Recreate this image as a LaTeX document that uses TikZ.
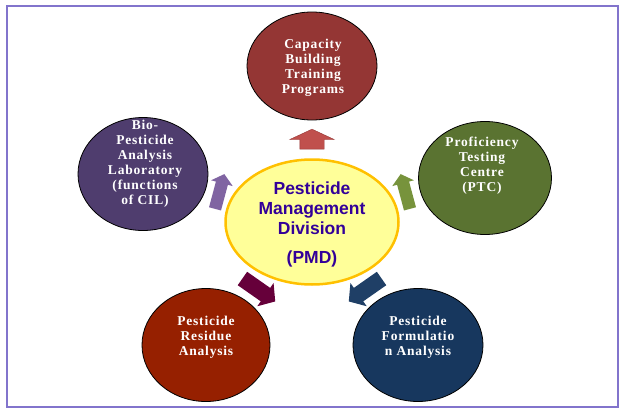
\documentclass[tikz,border=0pt]{standalone}
\usepackage{fontspec}
\setmainfont{Liberation Serif}
\newfontfamily\hubfont{Liberation Sans}
\newfontfamily\unitfont[LetterSpace=6]{Liberation Serif}
\usetikzlibrary{shapes.geometric,shapes.arrows}
\definecolor{capred}{HTML}{943634}
\definecolor{biopurple}{HTML}{4F3D6E}
\definecolor{ptcgreen}{HTML}{5A7331}
\definecolor{resrust}{HTML}{962000}
\definecolor{formnavy}{HTML}{17375E}
\definecolor{hubfill}{HTML}{FFFF99}
\definecolor{hubgold}{HTML}{FFC000}
\definecolor{hubtext}{HTML}{330099}
\definecolor{framecol}{HTML}{8274CC}
\definecolor{capptr}{HTML}{C0504D}
\definecolor{bioptr}{HTML}{8064A2}
\definecolor{ptcptr}{HTML}{77933C}
\definecolor{resptr}{HTML}{66003A}
\definecolor{formptr}{HTML}{1F3F66}
\begin{document}
\begin{tikzpicture}[x=1pt,y=-1pt,inner sep=0pt,outer sep=0pt,
unit/.style={draw=black,ellipse,line width=0.8pt,minimum width=130pt,minimum height=113pt},
unittext/.style={align=center,text=white,font=\unitfont\bfseries\fontsize{13.5}{15}\selectfont},
hub/.style={draw=hubgold,fill=hubfill,ellipse,line width=2.5pt,minimum width=173pt,minimum height=125pt},
pointer/.style={single arrow,single arrow head indent=0pt,inner xsep=0pt,inner ysep=6pt,minimum height=36pt,single arrow head extend=5pt,single arrow tip angle=100}]
\useasboundingbox (0,0) rectangle (626,415);
\draw[framecol,line width=2pt] (7,6) rectangle (618,407);
% centre
\node[hub] (pmd) at (312,222) {};
\node[align=center,text=hubtext,font=\hubfont\bfseries\fontsize{17.5}{20}\selectfont] (pmdtext) at (312,224)
  {Pesticide\\Management\\Division\\[9pt](PMD)};
% outer units
\node[unit,fill=capred,minimum height=108pt] (cap) at (312,66) {};
\node[unittext] (captext) at (313,68) {Capacity\\Building\\Training\\Programs};
\node[unit,fill=biopurple] (bio) at (143,174) {};
\node[unittext] (biotext) at (145,164) {Bio-\\Pesticide\\Analysis\\Laboratory\\(functions\\of CIL)};
\node[unit,fill=ptcgreen,minimum width=133pt] (ptc) at (485,178) {};
\node[unittext] (ptctext) at (482,166) {Proficiency\\Testing\\Centre\\(PTC)};
\node[unit,fill=resrust,minimum width=128pt] (res) at (206,345) {};
\node[unittext] (restext) at (206,337) {Pesticide\\Residue\\Analysis};
\node[unit,fill=formnavy] (form) at (418,345) {};
\node[unittext] (formtext) at (418,337) {Pesticide\\Formulatio\\n Analysis};
% pointers
\node[pointer,fill=capptr,draw=capred,line width=0.4pt,inner ysep=12pt,minimum height=20pt,single arrow head extend=10pt,single arrow tip angle=130,rotate=90] (tocap) at (312,142) {};
\node[pointer,fill=bioptr,rotate=75] (tobio) at (219,194) {};
\node[pointer,fill=ptcptr,rotate=105] (toptc) at (406,194) {};
\node[pointer,fill=resptr,inner ysep=8pt,minimum height=40pt,single arrow head extend=6pt,rotate=-35] (tores) at (256,288) {};
\node[pointer,fill=formptr,inner ysep=8pt,minimum height=40pt,single arrow head extend=6pt,rotate=215] (toform) at (368,288) {};
\end{tikzpicture}
\end{document}
